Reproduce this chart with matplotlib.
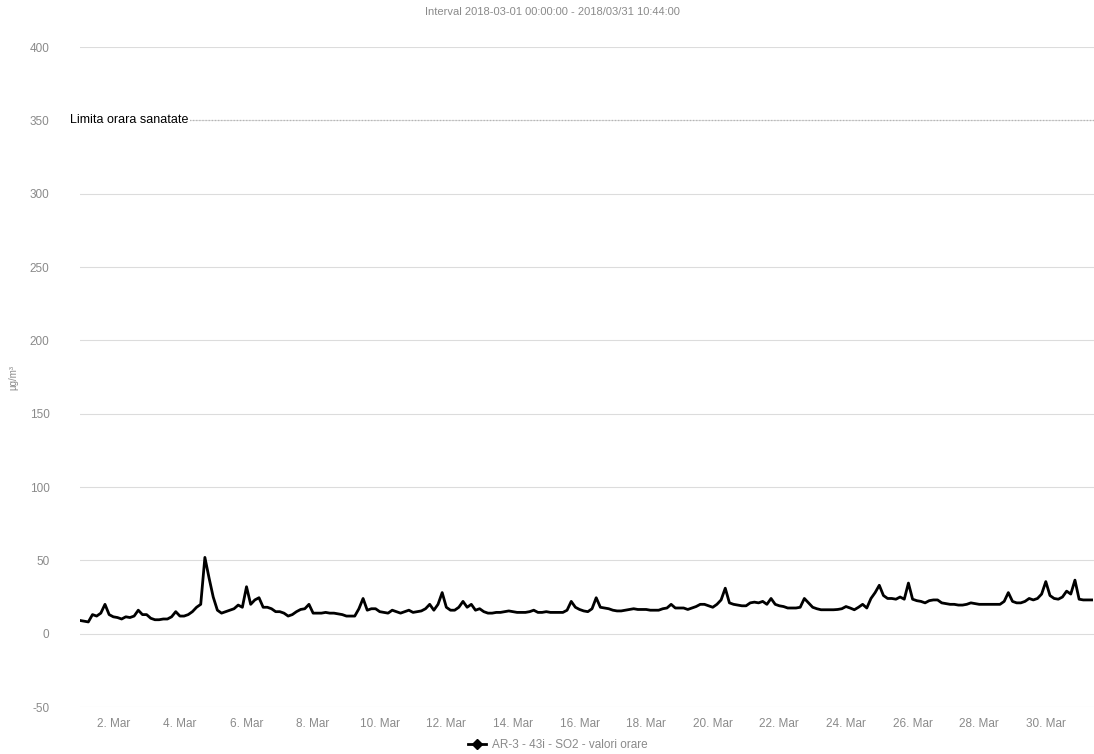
import matplotlib
matplotlib.use("Agg")

import pandas as pd
import matplotlib.pyplot as plt
from matplotlib.lines import Line2D
from matplotlib.ticker import FuncFormatter
import matplotlib.dates as mdates

# ------------------ DATA ------------------

START = "2018-03-01 00:00"
END = "2018-03-31 10:44"
TITLE = "Interval 2018-03-01 00:00:00 - 2018/03/31 10:44:00"
SERIES_NAME = "AR-3 - 43i - SO2 - valori orare"
LIMIT_LABEL = "Limita orara sanatate"
Y_LABEL = "µg/m³"

# SO2 values every 3 hours (00, 03, ..., 21h), ug/m3
so2_values = [
    9, 8.5, 8, 13, 12, 14, 20, 13,            # 1 Mar
    11.5, 11, 10, 11.5, 11, 12, 16, 13,       # 2 Mar
    13, 10.5, 9.5, 9.5, 10, 10, 11.5, 15,     # 3 Mar
    12, 12, 13, 15, 18, 20, 52, 38,           # 4 Mar
    25, 16, 14, 15, 16, 17, 19.5, 18,         # 5 Mar
    32, 20, 23, 24.5, 18, 18, 17, 15,         # 6 Mar
    15, 14, 12, 13, 15, 16.5, 17, 20,         # 7 Mar
    14, 14, 14, 14.5, 14, 14, 13.5, 13,       # 8 Mar
    12, 12, 12, 17, 24, 16, 17, 17,           # 9 Mar
    15, 14.5, 14, 16, 15, 14, 15, 16,         # 10 Mar
    14.5, 15, 15.5, 17, 20, 16, 20, 28,       # 11 Mar
    18, 16, 16, 18, 22, 18, 20, 16,           # 12 Mar
    17, 15, 14, 14, 14.5, 14.5, 15, 15.5,     # 13 Mar
    15, 14.5, 14.5, 14.5, 15, 16, 14.5, 14.5, # 14 Mar
    15, 14.5, 14.5, 14.5, 14.5, 16, 22, 18,   # 15 Mar
    16.5, 15.5, 15, 17, 24.5, 18, 17.5, 17,   # 16 Mar
    16, 15.5, 15.5, 16, 16.5, 17, 16.5, 16.5, # 17 Mar
    16.5, 16, 16, 16, 17, 17.5, 20, 17.5,     # 18 Mar
    17.5, 17.5, 16.5, 17.5, 18.5, 20, 20, 19, # 19 Mar
    18, 20, 23, 31, 21, 20, 19.5, 19,         # 20 Mar
    19, 21, 21.5, 21, 22, 20, 24, 20,         # 21 Mar
    19, 18.5, 17.5, 17.5, 17.5, 18, 24, 21,   # 22 Mar
    18, 17, 16.3, 16.3, 16.3, 16.3, 16.5, 17, # 23 Mar
    18.5, 17.5, 16.3, 18, 20, 17.5, 24, 28,   # 24 Mar
    33, 26, 24, 24, 23.5, 25, 23.5, 34.5,     # 25 Mar
    23.5, 22.5, 22, 21, 22.5, 23, 23, 21,     # 26 Mar
    20.5, 20, 20, 19.5, 19.5, 20, 21, 20.5,   # 27 Mar
    20, 20, 20, 20, 20, 20, 22, 28,           # 28 Mar
    22, 21, 21, 22, 24, 23, 24, 27,           # 29 Mar
    35.5, 26, 24, 23.5, 25, 29, 27, 36.5,     # 30 Mar
    23.5, 23, 23, 23,                         # 31 Mar
]

y_ticks = [-50, 0, 50, 100, 150, 200, 250, 300, 350, 400]
x_tick_days = [2, 4, 6, 8, 10, 12, 14, 16, 18, 20, 22, 24, 26, 28, 30]
health_limit = 350

# ------------------ PLOT ------------------

plt.rcParams["font.family"] = ["Liberation Sans", "DejaVu Sans"]
plt.rcParams["axes.unicode_minus"] = False
LABEL_GREY = "#8a8a8a"

times = pd.date_range(START, periods=len(so2_values), freq="3h")

fig = plt.figure(figsize=(10.94, 7.54), dpi=100)
ax = fig.add_axes([80 / 1094, 1 - 707 / 754, 1014 / 1094, 660 / 754])

ax.plot(times, so2_values, color="black", linewidth=2.0, zorder=3)

# health limit plot line
ax.axhline(health_limit, color="#b5b5b5", linewidth=0.9, linestyle=(0, (1, 1.5)), zorder=2)
ax.annotate(LIMIT_LABEL, xy=(0, health_limit), xycoords=("axes fraction", "data"),
            xytext=(-10, 0), textcoords="offset pixels",
            ha="left", va="center", fontsize=9, color="black",
            bbox=dict(boxstyle="square,pad=0.1", fc="white", ec="none"), zorder=4)

ax.set_ylim(-50, 400)
ax.set_yticks(y_ticks)
ax.set_xlim(pd.Timestamp(START), pd.Timestamp(END))

tick_dates = [pd.Timestamp(f"2018-03-{d:02d}") for d in x_tick_days]
ax.set_xticks(tick_dates)
ax.xaxis.set_major_formatter(FuncFormatter(lambda v, p: f"{mdates.num2date(v).day}. Mar"))

ax.grid(axis="y", color="#dcdcdc", linewidth=0.8)
ax.set_axisbelow(True)
for side in ["top", "right", "left", "bottom"]:
    ax.spines[side].set_visible(False)
ax.tick_params(axis="both", length=0, labelsize=8.5, colors=LABEL_GREY)
ax.tick_params(axis="y", pad=22)
ax.tick_params(axis="x", pad=8)

ax.set_ylabel(Y_LABEL, fontsize=7, color=LABEL_GREY, labelpad=8)

fig.text(0.505, 1 - 12 / 754, TITLE, ha="center", va="center", fontsize=8, color=LABEL_GREY)

handle = Line2D([], [], color="black", linewidth=2, marker="D", markersize=5)
fig.legend([handle], [SERIES_NAME], loc="center", bbox_to_anchor=(0.51, 1 - 745 / 754),
           frameon=False, fontsize=8.5, labelcolor=LABEL_GREY, handlelength=1.5,
           handletextpad=0.5)

fig.savefig("out.png", dpi=100)
plt.close(fig)
